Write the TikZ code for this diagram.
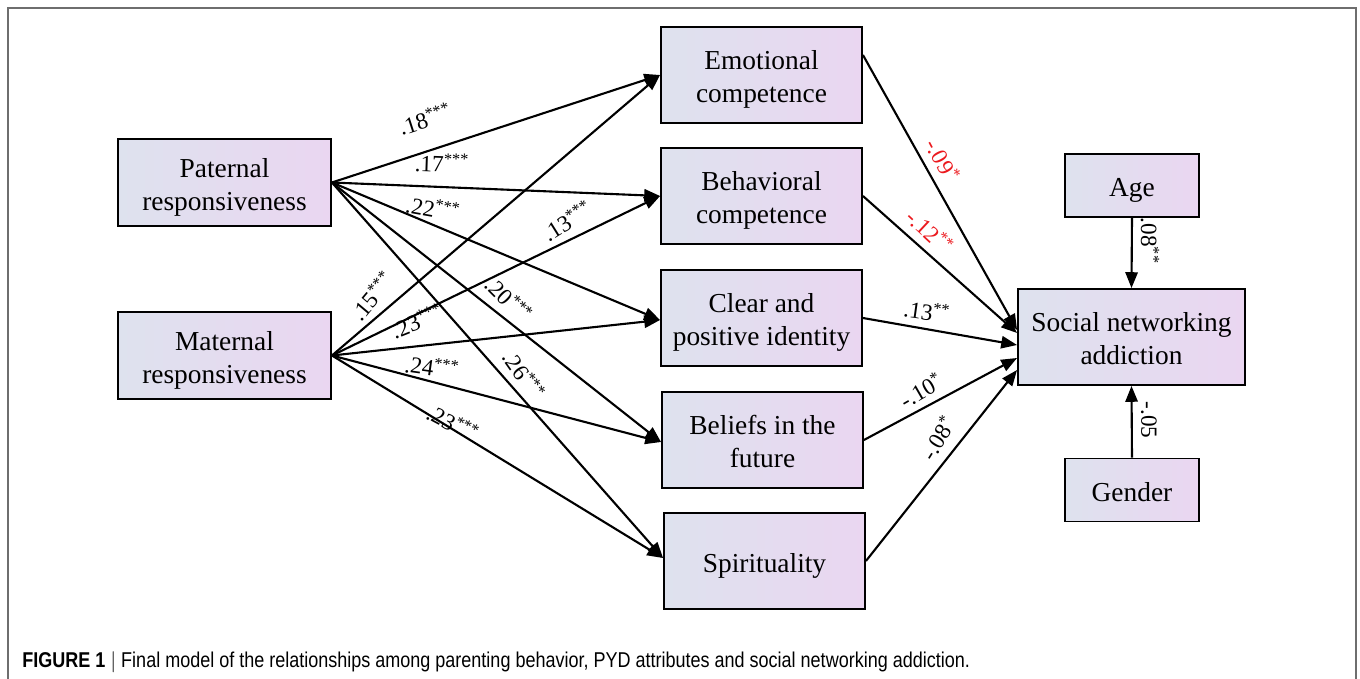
\documentclass[tikz,border=0pt]{standalone}
\usepackage{fontspec}
\setmainfont{Liberation Serif}
\newfontfamily\capfont[FakeStretch=0.84]{Liberation Sans}
\usetikzlibrary{arrows.meta,shadings}
\definecolor{boxL}{RGB}{222,226,238}
\definecolor{boxR}{RGB}{234,214,241}
\definecolor{framegray}{RGB}{110,110,110}
\definecolor{coefred}{RGB}{235,25,30}
\newcommand\bxt[1]{\begin{tabular}{@{}c@{}}\rule{0pt}{18.6pt}#1\end{tabular}}
\tikzset{
  box/.style={draw=black, line width=1.1pt, left color=boxL, right color=boxR,
    font=\fontsize{15.6}{18.8}\selectfont, inner sep=0pt},
  bigbox/.style={box, minimum width=4.26cm, minimum height=1.74cm},
  midbox/.style={box, minimum width=4.02cm, minimum height=1.92cm},
  socbox/.style={box, minimum width=4.54cm, minimum height=1.92cm},
  smallbox/.style={box, minimum width=2.68cm, minimum height=1.26cm},
  arr/.style={line width=1.2pt, -{Triangle[length=9pt,width=7pt]}},
  coef/.style={font=\fontsize{13.2}{14}\selectfont, inner sep=1pt},
  redcoef/.style={coef, text=coefred}
}
\begin{document}
\begin{tikzpicture}[x=0.02cm,y=-0.02cm]
\useasboundingbox (0,0) rectangle (1360,679);
% frame
\draw[framegray, line width=1.2pt] (8,700) -- (8,8) -- (1356,8) -- (1356,700);

% boxes
\node[bigbox] (pat) at (224.5,182.5) {\bxt{Paternal\\responsiveness}};
\node[bigbox] (mat) at (224.5,355.5) {\bxt{Maternal\\responsiveness}};
\node[midbox] (emo) at (761.5,75) {\bxt{Emotional\\competence}};
\node[midbox] (beh) at (761.5,196) {\bxt{Behavioral\\competence}};
\node[midbox] (cpi) at (761.5,318) {\bxt{Clear and\\positive identity}};
\node[midbox] (bif) at (762.5,440) {\bxt{Beliefs in the\\future}};
\node[midbox] (spi) at (764.5,561) {\bxt{Spirituality}};
\node[socbox] (soc) at (1131.5,337) {\bxt{Social networking\\addiction}};
\node[smallbox] (age) at (1132,185.5) {\bxt{Age}};
\node[smallbox] (gen) at (1132,490) {\bxt{Gender}};

% paternal paths
\draw[arr] (pat.east) -- (emo.west);
\draw[arr] (pat.east) -- (beh.west);
\draw[arr] (pat.east) -- ([yshift=-0.04cm]cpi.west);
\draw[arr] (pat.east) -- ([yshift=-0.04cm]bif.west);
\draw[arr] (pat.east) -- ([yshift=0.06cm]spi.west);
% maternal paths
\draw[arr] (mat.east) -- (emo.west);
\draw[arr] (mat.east) -- (beh.west);
\draw[arr] (mat.east) -- ([yshift=-0.04cm]cpi.west);
\draw[arr] (mat.east) -- ([yshift=-0.04cm]bif.west);
\draw[arr] (mat.east) -- ([yshift=0.06cm]spi.west);
% PYD -> SNA
\draw[arr] ([yshift=0.4cm]emo.east) -- ([yshift=0.14cm]soc.west);
\draw[arr] (beh.east) -- ([yshift=0.08cm]soc.west);
\draw[arr] (cpi.east) -- ([yshift=-0.16cm]soc.west);
\draw[arr] (bif.east) -- ([yshift=-0.42cm]soc.west);
\draw[arr] (spi.east) -- ([yshift=-0.66cm]soc.west);
% covariates
\draw[arr] (age.south) -- (soc.north);
\draw[arr] (gen.north) -- (soc.south);

% coefficients
\node[coef, rotate=18] (c1) at (425,119) {.18\textsuperscript{***}};
\node[coef, rotate=-2] (c2) at (442,163) {.17\textsuperscript{***}};
\node[coef, rotate=-10] (c3) at (433,208) {.22\textsuperscript{***}};
\node[coef, rotate=32] (c4) at (567,221) {.13\textsuperscript{***}};
\node[coef, rotate=50] (c5) at (372,296) {.15\textsuperscript{***}};
\node[coef, rotate=-45] (c6) at (509,299) {.20\textsuperscript{***}};
\node[coef, rotate=22] (c7) at (417,321) {.23\textsuperscript{***}};
\node[coef, rotate=-8] (c8) at (432,367) {.24\textsuperscript{***}};
\node[coef, rotate=-55] (c9) at (524,375) {.26\textsuperscript{***}};
\node[coef, rotate=-28] (c10) at (453,423) {.23\textsuperscript{***}};
\node[redcoef, rotate=-62] (c11) at (943,160) {-.09\textsuperscript{*}};
\node[redcoef, rotate=-43] (c12) at (930,231) {-.12\textsuperscript{**}};
\node[coef, rotate=-8] (c13) at (927,311) {.13\textsuperscript{**}};
\node[coef, rotate=30] (c14) at (921,390) {-.10\textsuperscript{*}};
\node[coef, rotate=58] (c15) at (938,438) {-.08\textsuperscript{*}};
\node[coef, rotate=-90] (c16) at (1150,241) {.08\textsuperscript{**}};
\node[coef, rotate=-90] (c17) at (1149,420) {-.05};

% caption
\node[anchor=base west, inner sep=0pt, font=\capfont\fontsize{12.2}{14}\selectfont] (cap) at (22,667)
  {\textbf{FIGURE 1} $|$ Final model of the relationships among parenting behavior, PYD attributes and social networking addiction.};
\end{tikzpicture}
\end{document}
